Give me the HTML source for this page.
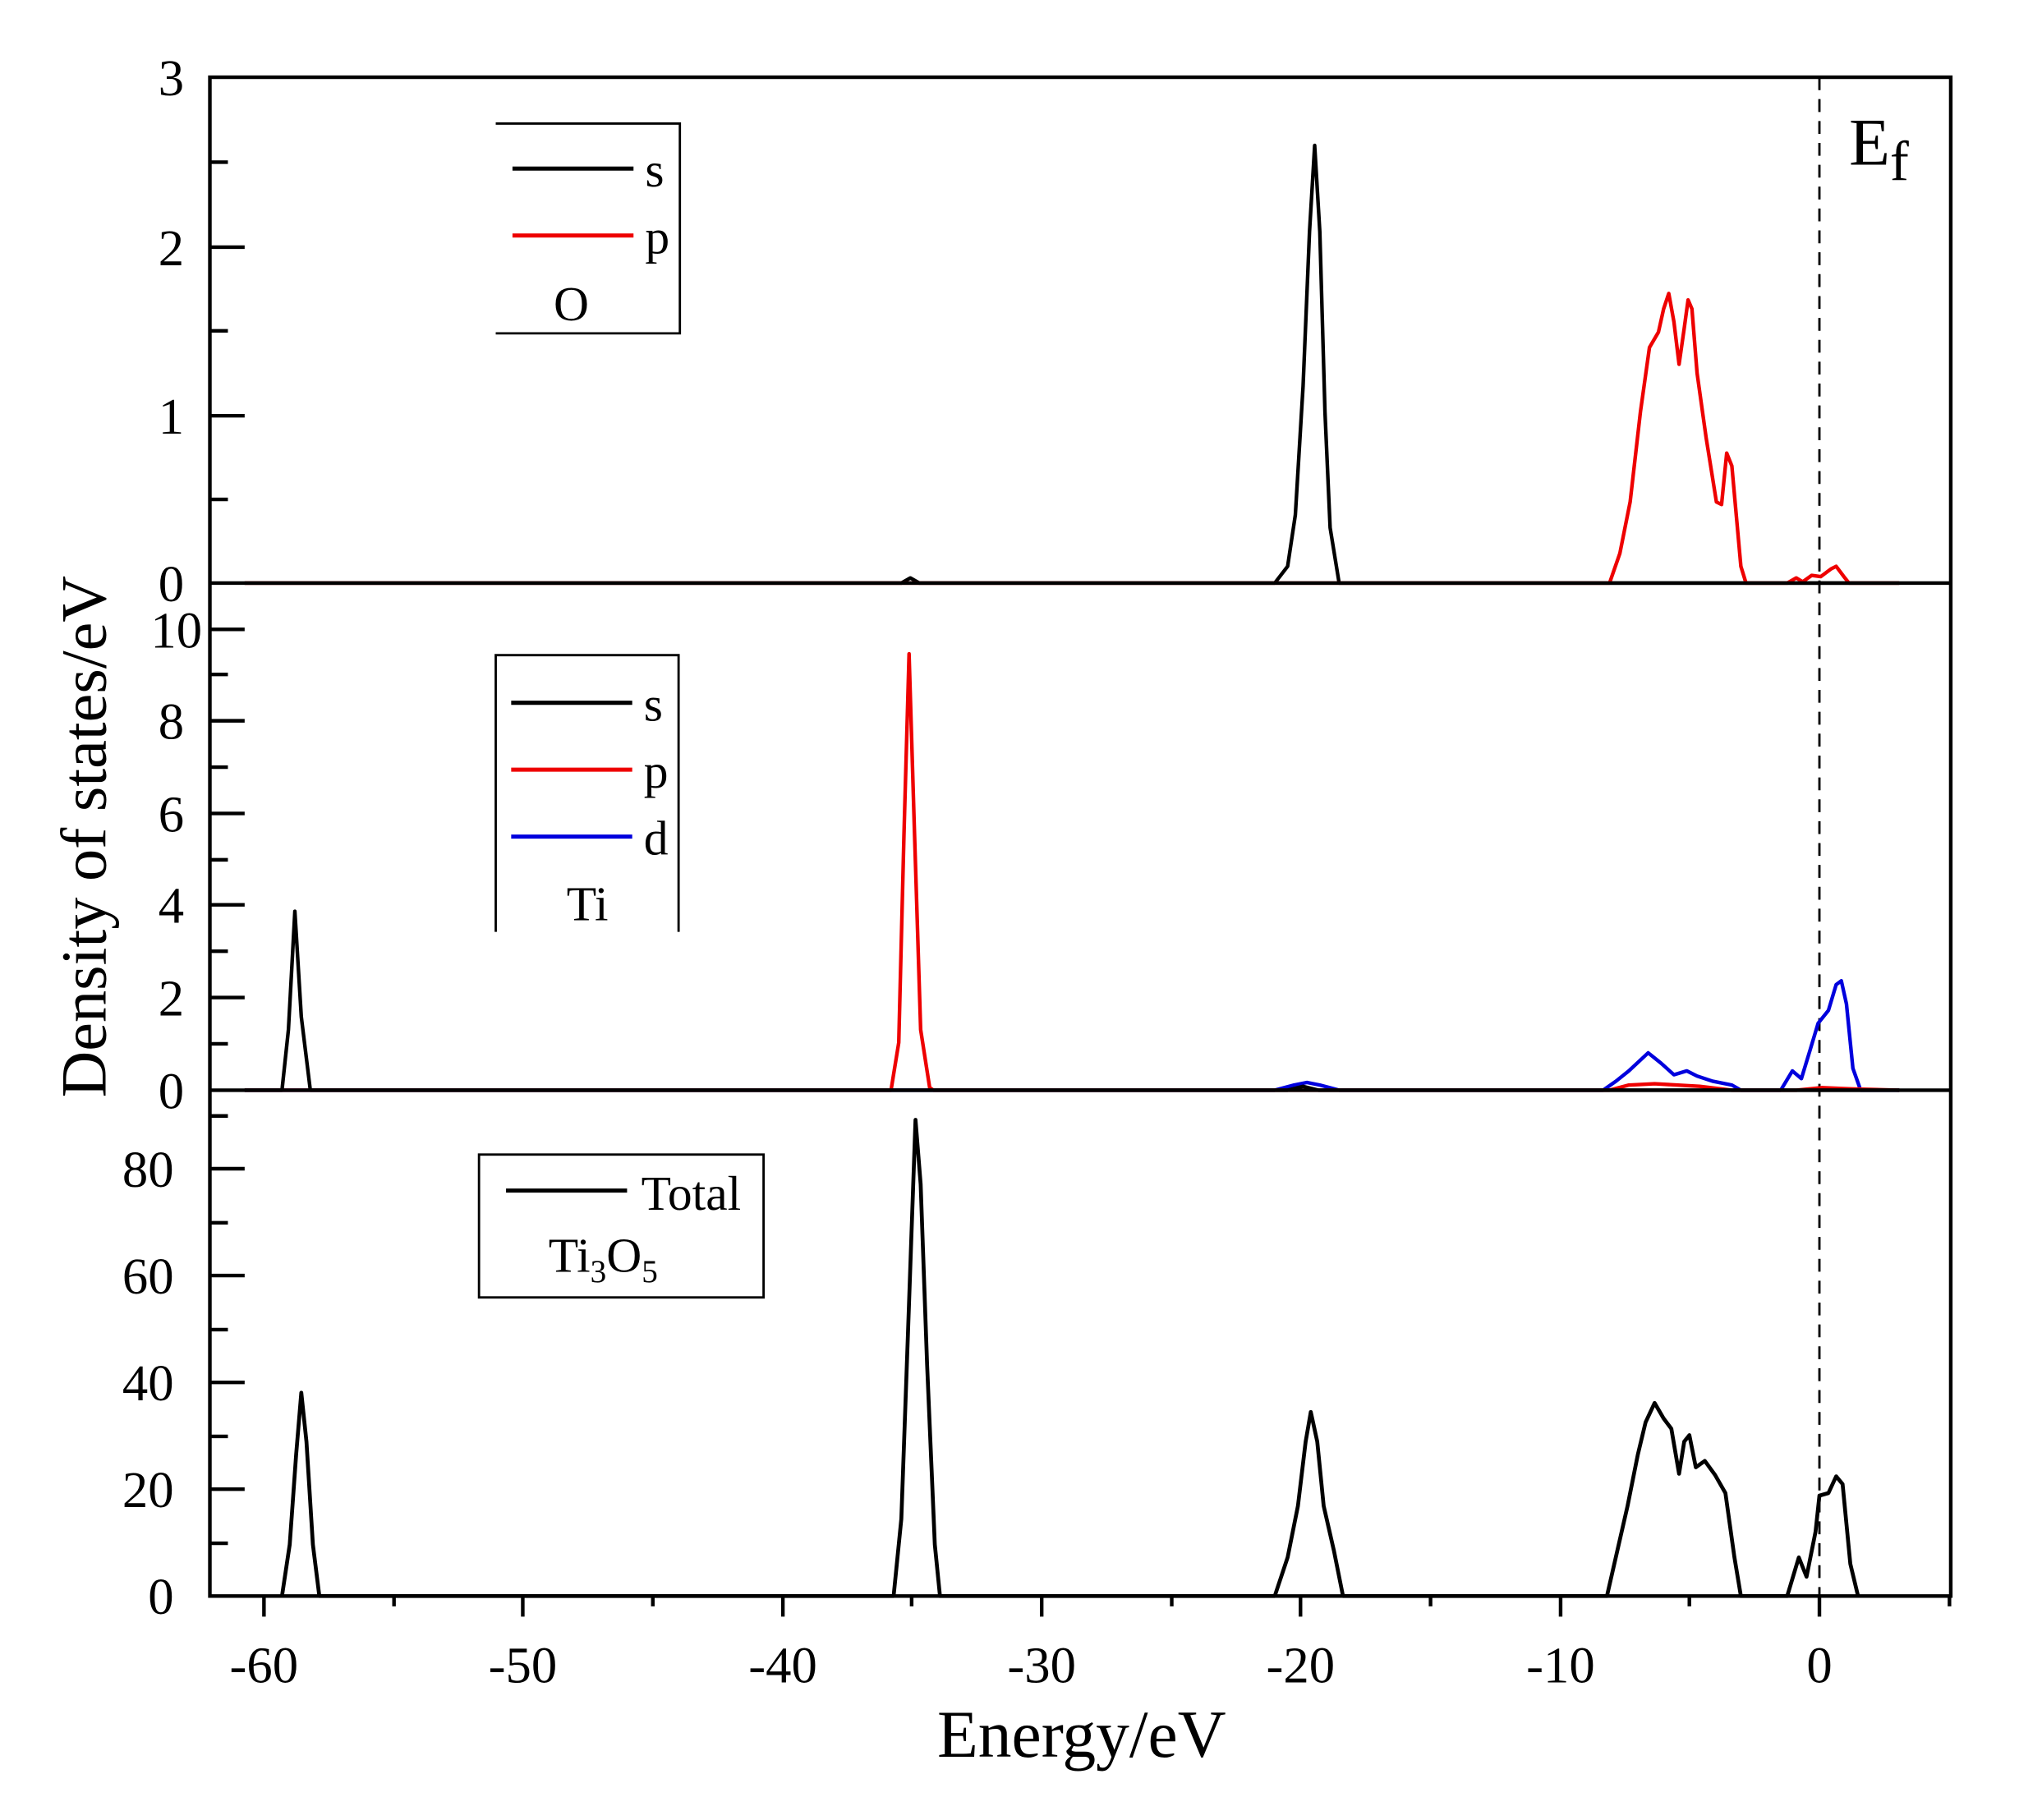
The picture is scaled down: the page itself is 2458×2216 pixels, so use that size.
<!DOCTYPE html>
<html><head><meta charset="utf-8"><style>html,body{margin:0;padding:0;background:#fff}svg{display:block}</style></head>
<body>
<svg width="2458" height="2216" viewBox="0 0 1568 1414" preserveAspectRatio="none" xmlns="http://www.w3.org/2000/svg" font-family="'Liberation Serif', serif">
<rect width="1568" height="1414" fill="#fff"/>
<line x1="1413" y1="60" x2="1413" y2="1252" stroke="#000" stroke-width="1.8" stroke-dasharray="10,7"/>
<polyline fill="none" stroke="#000" stroke-width="2.8" stroke-linejoin="round" points="190,453 700,453 707,449 714,453 990,453 1000,440 1006,400 1012,300 1017,180 1021,113 1025,180 1029,320 1033,410 1040,453 1475,453"/>
<polyline fill="none" stroke="#e00" stroke-width="2.8" stroke-linejoin="round" points="190,453 1250,453 1258,430 1266,390 1274,320 1281,270 1288,258 1292,240 1296,228 1300,250 1304,283 1308,255 1311,233 1314,240 1318,290 1325,340 1333,390 1337,392 1341,352 1345,362 1352,440 1356,453 1388,453 1395,449 1400,452 1407,447 1414,448 1422,442 1426,440 1432,448 1436,453 1475,453"/>
<polyline fill="none" stroke="#00d" stroke-width="2.8" stroke-linejoin="round" points="190,847 990,847 1005,843 1015,841 1025,843 1040,847 1245,847 1255,840 1265,832 1280,818 1290,826 1300,835 1310,832 1318,836 1330,840 1345,843 1352,847 1383,847 1392,832 1399,838 1406,815 1412,795 1420,785 1426,765 1430,762 1434,780 1439,830 1445,847 1475,847"/>
<polyline fill="none" stroke="#e00" stroke-width="2.8" stroke-linejoin="round" points="190,847 692,847 698,810 702,650 706,508 710,640 715,800 722,845 725,847 1250,847 1265,843 1285,842 1320,844 1345,847 1395,847 1415,845 1438,846 1475,847"/>
<polyline fill="none" stroke="#000" stroke-width="2.8" stroke-linejoin="round" points="190,847 219,847 224,800 229,708 234,790 241,847 1000,847 1012,844 1024,847 1475,847"/>
<polyline fill="none" stroke="#000" stroke-width="3" stroke-linejoin="round" points="219,1240 225,1200 230,1130 234,1082 238,1120 243,1200 248,1240 694,1240 700,1180 705,1040 711,870 715,920 720,1060 726,1200 730,1240 990,1240 1000,1210 1008,1170 1014,1120 1018,1097 1023,1120 1028,1170 1036,1205 1043,1240 1248,1240 1256,1205 1264,1170 1272,1130 1278,1105 1285,1090 1292,1102 1298,1110 1304,1145 1308,1120 1312,1115 1317,1140 1324,1135 1332,1146 1340,1160 1347,1210 1352,1240 1388,1240 1397,1210 1403,1225 1410,1190 1413,1162 1420,1160 1426,1147 1431,1153 1437,1215 1443,1240"/>
<g stroke="#000" stroke-width="2.8" fill="none">
<rect x="163" y="60" width="1352" height="1180"/>
<line x1="163" y1="453" x2="1515" y2="453"/>
<line x1="163" y1="847" x2="1515" y2="847"/>
</g>
<g stroke="#000" stroke-width="2.8">
<line x1="163" y1="192" x2="190" y2="192"/><line x1="163" y1="323" x2="190" y2="323"/>
<line x1="163" y1="126" x2="177" y2="126"/><line x1="163" y1="257" x2="177" y2="257"/><line x1="163" y1="388" x2="177" y2="388"/>
<line x1="163" y1="489" x2="190" y2="489"/><line x1="163" y1="560" x2="190" y2="560"/><line x1="163" y1="632" x2="190" y2="632"/><line x1="163" y1="703" x2="190" y2="703"/><line x1="163" y1="775" x2="190" y2="775"/>
<line x1="163" y1="524" x2="177" y2="524"/><line x1="163" y1="596" x2="177" y2="596"/><line x1="163" y1="668" x2="177" y2="668"/><line x1="163" y1="739" x2="177" y2="739"/><line x1="163" y1="811" x2="177" y2="811"/>
<line x1="163" y1="908" x2="190" y2="908"/><line x1="163" y1="991" x2="190" y2="991"/><line x1="163" y1="1074" x2="190" y2="1074"/><line x1="163" y1="1157" x2="190" y2="1157"/>
<line x1="163" y1="867" x2="177" y2="867"/><line x1="163" y1="950" x2="177" y2="950"/><line x1="163" y1="1033" x2="177" y2="1033"/><line x1="163" y1="1116" x2="177" y2="1116"/><line x1="163" y1="1199" x2="177" y2="1199"/>
<line x1="205" y1="1240" x2="205" y2="1256"/><line x1="406" y1="1240" x2="406" y2="1256"/><line x1="608" y1="1240" x2="608" y2="1256"/><line x1="809" y1="1240" x2="809" y2="1256"/><line x1="1010" y1="1240" x2="1010" y2="1256"/><line x1="1212" y1="1240" x2="1212" y2="1256"/><line x1="1413" y1="1240" x2="1413" y2="1256"/>
<line x1="306" y1="1240" x2="306" y2="1248"/><line x1="507" y1="1240" x2="507" y2="1248"/><line x1="708" y1="1240" x2="708" y2="1248"/><line x1="910" y1="1240" x2="910" y2="1248"/><line x1="1111" y1="1240" x2="1111" y2="1248"/><line x1="1312" y1="1240" x2="1312" y2="1248"/><line x1="1514" y1="1240" x2="1514" y2="1248"/>
</g>
<g font-size="40" text-anchor="end" fill="#000">
<text x="143" y="74">3</text><text x="143" y="206">2</text><text x="143" y="337">1</text><text x="143" y="467">0</text>
<text x="157" y="503">10</text><text x="143" y="574">8</text><text x="143" y="646">6</text><text x="143" y="717">4</text><text x="143" y="789">2</text><text x="143" y="861">0</text>
<text x="135" y="922">80</text><text x="135" y="1005">60</text><text x="135" y="1088">40</text><text x="135" y="1171">20</text><text x="135" y="1254">0</text>
</g>
<g font-size="40" text-anchor="middle" fill="#000">
<text x="205" y="1307">-60</text><text x="406" y="1307">-50</text><text x="608" y="1307">-40</text><text x="809" y="1307">-30</text><text x="1010" y="1307">-20</text><text x="1212" y="1307">-10</text><text x="1413" y="1307">0</text>
</g>
<text x="840" y="1365" font-size="52" text-anchor="middle">Energy/eV</text>
<text transform="translate(82,650) rotate(-90)" font-size="50" text-anchor="middle">Density of states/eV</text>
<text x="1436" y="128" font-size="52">E<tspan font-size="44" dy="12">f</tspan></text>
<g stroke="#000" stroke-width="1.8" fill="none">
<polyline points="385,96 528,96 528,259 385,259"/>
<polyline points="385,724 385,509 527,509 527,724"/>
<rect x="372" y="897" width="221" height="111"/>
</g>
<g stroke-width="3.2">
<line x1="398" y1="131" x2="492" y2="131" stroke="#000"/>
<line x1="398" y1="183" x2="492" y2="183" stroke="#e00"/>
<line x1="397" y1="546" x2="491" y2="546" stroke="#000"/>
<line x1="397" y1="598" x2="491" y2="598" stroke="#e00"/>
<line x1="397" y1="650" x2="491" y2="650" stroke="#00d"/>
<line x1="393" y1="925" x2="487" y2="925" stroke="#000"/>
</g>
<g font-size="38" fill="#000">
<text x="501" y="145">s</text><text x="501" y="197">p</text><text x="430" y="249">O</text>
<text x="500" y="560">s</text><text x="500" y="612">p</text><text x="500" y="664">d</text><text x="440" y="715">Ti</text>
<text x="498" y="940">Total</text>
<text x="426" y="988">Ti<tspan font-size="25" dy="8">3</tspan><tspan dy="-8">O</tspan><tspan font-size="25" dy="8">5</tspan></text>
</g>
</svg>
</body></html>
